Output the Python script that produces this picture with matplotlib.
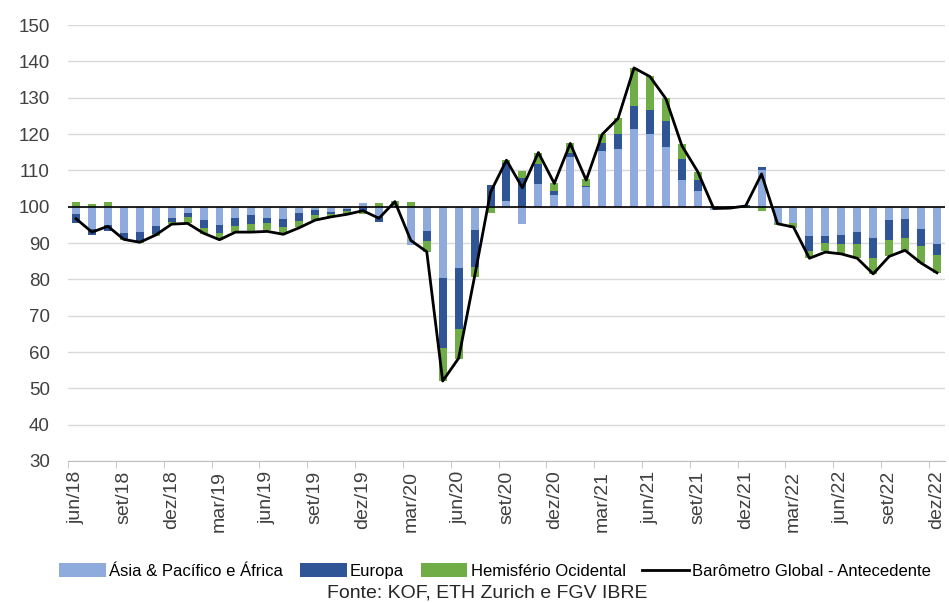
import matplotlib.pyplot as plt
import numpy as np

plt.rcParams['font.family'] = ['Liberation Sans', 'DejaVu Sans']

# rótulos do eixo x (a cada 3 meses, jun/18 a dez/22)
tick_labels = ['jun/18', 'set/18', 'dez/18', 'mar/19', 'jun/19', 'set/19', 'dez/19',
               'mar/20', 'jun/20', 'set/20', 'dez/20', 'mar/21', 'jun/21', 'set/21',
               'dez/21', 'mar/22', 'jun/22', 'set/22', 'dez/22']

# contribuições mensais (pontos em relação a 100)
asia = [-2.0, -6.2, -5.0, -7.2, -7.0, -5.3, -3.1, -1.7, -3.8, -5.0, -3.1, -2.4,
        -3.0, -3.3, -1.8, -0.9, -1.5, -0.7, 1.0, -2.6, 0.2, -10.5, -6.7, -19.5,
        -16.8, -6.3, 0.3, 1.7, -4.7, 6.2, 3.3, 13.6, 5.3, 15.4, 16.0, 21.4,
        20.1, 16.5, 7.4, 4.3, -0.9, -0.2, 0.3, 10.0, -4.4, -4.4, -8.0, -8.1,
        -7.7, -6.9, -8.6, -3.7, -3.3, -6.1, -10.2]
europa = [-2.5, -1.6, -1.6, -1.6, -2.4, -2.1, -1.0, -1.1, -2.2, -2.3, -2.2, -2.5,
          -1.4, -2.3, -2.1, -1.5, -0.6, -0.5, -1.2, -1.7, 0.0, 0.0, -2.8, -19.5,
          -17.0, -10.3, 5.6, 10.2, 7.8, 5.6, 1.1, 1.2, 0.5, 2.2, 4.0, 6.4,
          6.4, 7.1, 5.6, 3.0, 0.0, -0.3, 0.1, 0.9, 0.0, 0.0, -4.1, -2.0,
          -2.5, -3.5, -5.6, -5.6, -5.3, -4.8, -3.1]
hemisferio = [1.2, 0.8, 1.2, -0.5, -0.7, -0.8, -0.7, -1.7, -1.4, -1.8, -1.6, -1.7,
              -2.1, -2.0, -1.8, -1.3, -0.7, -0.8, -0.9, 1.1, 1.3, 1.2, -3.0, -9.0,
              -8.2, -2.8, -1.8, 0.9, 2.0, 2.9, 2.1, 2.6, 1.8, 2.5, 4.3, 10.4,
              9.6, 6.3, 4.3, 2.3, 0.3, 0.1, -0.4, -1.1, -0.6, -1.4, -2.1, -2.1,
              -2.8, -3.7, -4.2, -4.4, -3.7, -4.6, -4.9]
barometro = [96.7, 93.0, 94.6, 91.0, 90.2, 92.2, 95.2, 95.4, 92.7, 90.9, 93.0, 93.0,
             93.2, 92.4, 94.2, 96.3, 97.2, 97.9, 98.9, 96.8, 101.4, 90.7, 87.6, 52.0,
             58.3, 80.8, 104.0, 112.8, 105.2, 114.9, 106.4, 117.4, 107.3, 119.9, 124.3, 138.2,
             135.8, 129.7, 116.8, 109.6, 99.5, 99.6, 100.2, 109.0, 95.3, 94.4, 85.8, 87.5,
             87.0, 85.8, 81.5, 86.3, 88.0, 84.5, 81.8]

series = [asia, europa, hemisferio]
names = ['Ásia & Pacífico e África', 'Europa', 'Hemisfério Ocidental']
colors = ['#8FAADC', '#2F5597', '#70AD47']

n = len(barometro)
x = np.arange(n)

fig = plt.figure(figsize=(9.49, 6.03), dpi=100)
ax = fig.add_axes([0.0717, 0.2355, 0.924, 0.723])

# empilhamento como no Excel: positivos para cima, negativos para baixo
pos = np.zeros(n)
neg = np.zeros(n)
handles = []
for s, name, c in zip(series, names, colors):
    s = np.array(s)
    bottom = 100 + np.where(s >= 0, pos, neg)
    h = ax.bar(x, s, bottom=bottom, width=0.5, color=c, label=name, zorder=2)
    handles.append(h)
    pos += np.where(s >= 0, s, 0)
    neg += np.where(s < 0, s, 0)

ax.axhline(100, color='black', lw=1.2, zorder=3)
ln, = ax.plot(x, barometro, color='black', lw=2, label='Barômetro Global - Antecedente', zorder=4)
handles.append(ln)

ax.set_xlim(-0.5, n - 0.5)
ax.set_ylim(30, 150)
ax.set_yticks(range(30, 151, 10))
ax.grid(axis='y', color='#d9d9d9', lw=1, zorder=0)
ax.set_axisbelow(True)

ax.set_xticks(x[::3])
ax.set_xticklabels(tick_labels, rotation=90)
ax.set_xticks(np.arange(-0.5, n - 1, 3), minor=True)
ax.tick_params(axis='x', which='major', length=0, pad=7, labelsize=14, colors='#404040')
ax.tick_params(axis='x', which='minor', length=5, color='#bfbfbf')
ax.tick_params(axis='y', length=0, pad=13, labelsize=13.5, colors='#404040')

for sp in ['left', 'top', 'right']:
    ax.spines[sp].set_visible(False)
ax.spines['bottom'].set_color('#bfbfbf')

fig.legend(handles=handles, loc='center', bbox_to_anchor=(0.522, 0.053), ncol=4, frameon=False,
           handlelength=2.8, handleheight=0.9, handletextpad=0.2, columnspacing=1.0,
           prop={'family': ['Liberation Sans Narrow', 'Liberation Sans'], 'size': 12})
fig.text(0.513, 0.016, 'Fonte: KOF, ETH Zurich e FGV IBRE', ha='center', va='center',
         fontsize=14, color='#262626')

fig.savefig('out.png', dpi=100)
